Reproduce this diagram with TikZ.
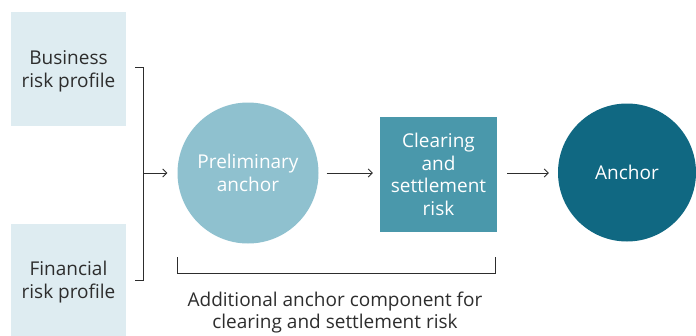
\documentclass[tikz,border=0pt]{standalone}
\usepackage{fontspec}
\setmainfont{Open Sans}
\usetikzlibrary{arrows.meta}
\definecolor{palebox}{RGB}{222,236,241}
\definecolor{prelimfill}{RGB}{143,193,207}
\definecolor{clearfill}{RGB}{74,152,171}
\definecolor{anchorfill}{RGB}{16,104,130}
\definecolor{inkgrey}{RGB}{45,45,45}
\tikzset{
  profilebox/.style={rectangle, fill=palebox, text=inkgrey, align=center,
    minimum width=115pt, inner sep=0pt, text depth=0pt, font=\fontsize{19}{23}\selectfont},
  roundstage/.style={circle, text=white, align=center, inner sep=0pt,
    font=\fontsize{19}{23}\selectfont},
  link/.style={inkgrey, line width=0.9pt, -{Straight Barb[length=4pt,width=8pt]}},
  brace/.style={inkgrey, line width=0.9pt}
}
\begin{document}
\begin{tikzpicture}[x=1pt, y=-1pt]
	\useasboundingbox (0,0) rectangle (696,335);
	\node [profilebox, minimum height=114pt] (biz) at (68.5,69) {Business\\risk profile};
	\node [profilebox, minimum height=112pt] (fin) at (68.5,279.5) {Financial\\risk profile};
	\node [roundstage, fill=prelimfill, minimum size=141pt] (prelim) at (248,173) {Preliminary\\anchor};
	\node [rectangle, fill=clearfill, text=white, align=center, inner sep=0pt,
	       minimum width=117pt, minimum height=115pt,
	       font=\fontsize{19}{22.5}\selectfont] (clear) at (438.5,174.5) {Clearing\\and\\settlement\\risk};
	\node [roundstage, fill=anchorfill, minimum size=138pt] (anchor) at (627,172.5) {Anchor};
	% bracket joining the two profiles
	\coordinate (jtop) at (143,67);
	\coordinate (jbot) at (143,280);
	\coordinate (jmid) at (143,173);
	\draw [brace] ([xshift=-8pt]jtop) -- (jtop) -- (jbot) -- ([xshift=-8pt]jbot);
	\draw [link, shorten >=10pt] (jmid) -- (jmid -| prelim.west);
	\draw [link, shorten <=8pt, shorten >=7pt] (jmid -| prelim.east) -- (jmid -| clear.west);
	\draw [link, shorten <=10pt, shorten >=9pt] (jmid -| clear.east) -- (jmid -| anchor.west);
	% bracket under the add-on
	\coordinate (bl) at (177,257);
	\coordinate (br) at (495,257);
	\draw [brace] (bl) -- ([yshift=-16pt]bl) -- ([yshift=-16pt]br) -- (br);
	\node [text=inkgrey, align=center, font=\fontsize{19}{22}\selectfont] (note) at (335,313)
	      {Additional anchor component for\\clearing and settlement risk};
\end{tikzpicture}
\end{document}
